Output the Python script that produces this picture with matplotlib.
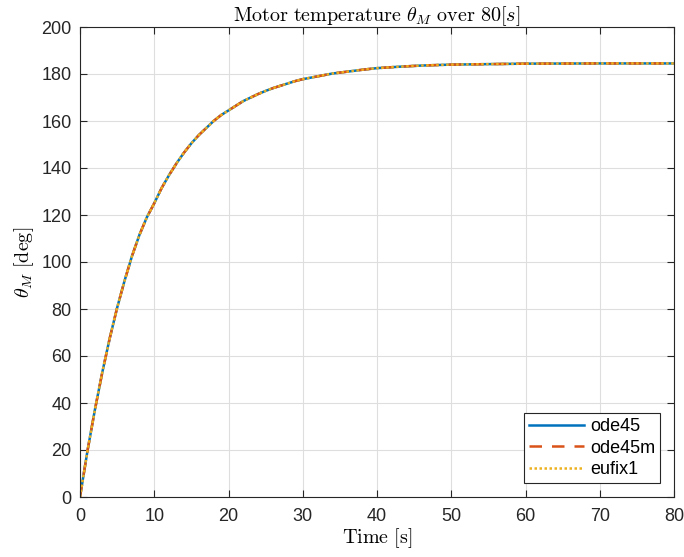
import matplotlib.pyplot as plt
import numpy as np

# readings (all three solvers overlap)
t = [0, 1, 2, 3, 4, 5, 6, 7, 8, 9, 10, 11, 12, 13, 14, 15, 16, 17, 18, 19, 20,
     21, 22, 23, 24, 25, 26, 27, 28, 29, 30, 32, 34, 36, 38, 40, 43, 46, 50,
     55, 60, 70, 80]
theta_ode45 = [0, 19.5, 37, 53, 67.5, 80.5, 92, 102.5, 111.5, 119, 125, 131.5,
               137, 142, 146.5, 150.5, 154, 157, 160, 162.5, 164.5, 166.5, 168.5,
               170, 171.5, 172.8, 174, 175, 176, 177, 177.8, 179, 180.2, 181,
               181.8, 182.5, 183.1, 183.6, 184, 184.2, 184.4, 184.5, 184.5]
theta_ode45m = list(theta_ode45)
theta_eufix1 = list(theta_ode45)

labels = ['ode45', 'ode45m', 'eufix1']
colors = ['#0072BD', '#D95319', '#EDB120']

plt.rcParams['font.family'] = ['Liberation Sans', 'DejaVu Sans']
plt.rcParams['mathtext.fontset'] = 'cm'

fig = plt.figure(figsize=(6.84, 5.57), dpi=100)
ax = fig.add_axes([80/684, 60/557, 594/684, 470/557])

ax.plot(t, theta_ode45, color=colors[0], lw=1.8, label=labels[0])
ax.plot(t, theta_ode45m, color=colors[1], lw=1.8, ls=(0, (5, 4)), label=labels[1])
ax.plot(t, theta_eufix1, color=colors[2], lw=1.8, ls=(0, (1, 1)), label=labels[2])

ax.set_xlim(0, 80)
ax.set_ylim(0, 200)
ax.set_xticks(np.arange(0, 81, 10))
ax.set_yticks(np.arange(0, 201, 20))
ax.grid(True, color='#dedede', lw=0.8)
ax.set_axisbelow(True)
ax.tick_params(direction='in', top=True, right=True, length=5, width=0.8,
               labelsize=13, colors='#262626')
ax.tick_params(axis='x', pad=8)
ax.tick_params(axis='y', pad=6)
for s in ax.spines.values():
    s.set_color('#262626')
    s.set_linewidth(0.8)

ax.set_title(r'$\mathrm{Motor\ temperature}\ \theta_M\ \mathrm{over}\ 80[s]$', fontsize=14.5, pad=4)
ax.set_xlabel(r'$\mathrm{Time\ [s]}$', fontsize=14.5, labelpad=1)
ax.set_ylabel(r'$\theta_M\ \mathrm{[deg]}$', fontsize=14.5, labelpad=4)

leg = ax.legend(loc='lower right', fontsize=13, fancybox=False, framealpha=1,
                edgecolor='#262626', handlelength=3.0, borderaxespad=0.75,
                handletextpad=0.35, labelspacing=0.25, borderpad=0.3)
leg.get_frame().set_linewidth(0.8)

fig.savefig('out.png', dpi=100)
